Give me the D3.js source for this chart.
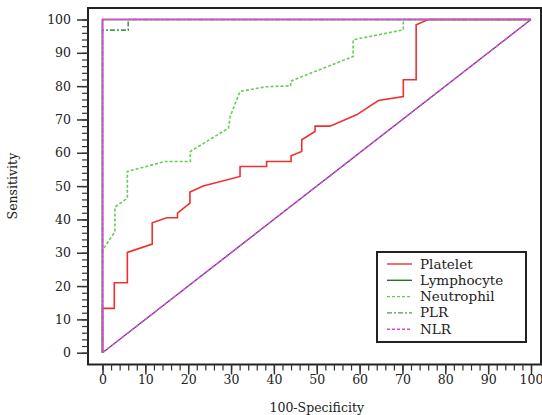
<!DOCTYPE html>
<html>
<head>
<meta charset="utf-8">
<script src="https://cdn.jsdelivr.net/npm/d3@7"></script>
<style>
  body { margin: 0; background: #fff; }
  text { font-family: "DejaVu Serif", serif; fill: #222; }
</style>
</head>
<body>
<div id="chart"></div>
<script>
// ROC curves: [100-Specificity, Sensitivity]
const platelet = [
  [0, 0], [0, 13.3], [2.75, 13.3], [2.75, 21], [5.8, 21], [5.8, 30.1], [11.6, 32.6],
  [11.6, 39], [15, 40.5], [17.5, 40.5], [17.5, 41.9], [20.4, 44.9], [20.4, 48.2],
  [23.5, 50], [32.1, 52.9], [32.1, 55.9], [38.3, 55.9], [38.3, 57.4], [44, 57.4],
  [44, 59.1], [46.5, 60.4], [46.5, 63.9], [49.6, 66.4], [49.6, 68], [53.1, 68],
  [59.3, 71.4], [64.4, 75.7], [70.2, 76.9], [70.2, 81.9], [73.2, 81.9], [73.2, 98.4],
  [76, 100], [100, 100]
];
const lymphocyte = [[0, 0], [0, 100], [100, 100]];
const neutrophil = [
  [0, 0], [0, 30.8], [2.9, 36.3], [2.9, 43.7], [5.8, 46.4], [5.8, 54.4], [14.6, 57.4],
  [20.5, 57.4], [20.5, 60.4], [29.4, 67.4], [29.8, 70.9], [32.1, 78.4], [38, 79.8],
  [43.9, 80.1], [43.9, 81.5], [58.5, 88.9], [58.5, 93.9], [70.2, 96.9], [70.2, 100],
  [100, 100]
];
const plr = [[0, 0], [0, 96.8], [6, 96.8], [6, 100], [100, 100]];
const nlr = [[0, 0], [0, 100], [100, 100]];
const diagonal = [[0, 0], [100, 100]];

const seriesNames = ['Platelet', 'Lymphocyte', 'Neutrophil', 'PLR', 'NLR'];
const xTicks = [0, 10, 20, 30, 40, 50, 60, 70, 80, 90, 100];
const yTicks = [0, 10, 20, 30, 40, 50, 60, 70, 80, 90, 100];

// plotDash is how the curve looks in the plot, dash is the legend sample
const series = [
  { name: 'Platelet', data: platelet, color: '#f03030', dash: null, plotDash: null },
  { name: 'Lymphocyte', data: lymphocyte, color: '#1a7a1a', dash: null, plotDash: null },
  { name: 'Neutrophil', data: neutrophil, color: '#66cc55', dash: '3,2', plotDash: '3,2' },
  { name: 'PLR', data: plr, color: '#4a9a4a', dash: '5,2,2,2', plotDash: '5,2,2,2' },
  { name: 'NLR', data: nlr, color: '#dd44dd', dash: '3,2', plotDash: null }
];

const width = 542, height = 415;
const frame = { left: 88, top: 8, right: 541, bottom: 364.5 };

const svg = d3.select('#chart')
  .append('svg')
  .attr('width', width)
  .attr('height', height);

const x = d3.scaleLinear().domain([0, 100]).range([102.5, 531]);
const y = d3.scaleLinear().domain([0, 100]).range([352.7, 19.5]);

// frame
svg.append('rect')
  .attr('x', frame.left)
  .attr('y', frame.top)
  .attr('width', frame.right - frame.left)
  .attr('height', frame.bottom - frame.top)
  .attr('fill', 'none')
  .attr('stroke', '#222')
  .attr('stroke-width', 2);

// y axis
const minorVals = d3.range(0, 101, 2);
svg.append('g')
  .attr('transform', `translate(${frame.left},0)`)
  .call(d3.axisLeft(y).tickValues(minorVals).tickSize(6).tickFormat(''))
  .call(g => g.select('.domain').remove())
  .selectAll('line').attr('stroke', '#333').attr('stroke-width', 1.2);

svg.append('g')
  .attr('transform', `translate(${frame.left},0)`)
  .call(d3.axisLeft(y).tickValues(yTicks).tickSize(11).tickPadding(6))
  .call(g => g.select('.domain').remove())
  .call(g => g.selectAll('line').attr('stroke', '#333').attr('stroke-width', 1.5))
  .selectAll('text')
  .style('font-family', '"DejaVu Serif", serif')
  .style('font-size', '12.5px')
  .attr('fill', '#222');

// x axis
svg.append('g')
  .attr('transform', `translate(0,${frame.bottom})`)
  .call(d3.axisBottom(x).tickValues(minorVals).tickSize(6).tickFormat(''))
  .call(g => g.select('.domain').remove())
  .selectAll('line').attr('stroke', '#333').attr('stroke-width', 1.2);

svg.append('g')
  .attr('transform', `translate(0,${frame.bottom})`)
  .call(d3.axisBottom(x).tickValues(xTicks).tickSize(10).tickPadding(1))
  .call(g => g.select('.domain').remove())
  .call(g => g.selectAll('line').attr('stroke', '#333').attr('stroke-width', 1.5))
  .selectAll('text')
  .style('font-family', '"DejaVu Serif", serif')
  .style('font-size', '12.5px')
  .attr('fill', '#222');

// axis titles
svg.append('text')
  .attr('x', (x(0) + x(100)) / 2)
  .attr('y', 412)
  .attr('text-anchor', 'middle')
  .style('font-size', '12.5px')
  .text('100-Specificity');

svg.append('text')
  .attr('transform', `translate(17,${(y(0) + y(100)) / 2}) rotate(-90)`)
  .attr('text-anchor', 'middle')
  .style('font-size', '12.5px')
  .text('Sensitivity');

const line = d3.line().x(d => x(d[0])).y(d => y(d[1]));

// reference diagonal
svg.append('path')
  .attr('d', line(diagonal))
  .attr('fill', 'none')
  .attr('stroke', '#7a3a8e')
  .attr('stroke-width', 1.4);
svg.append('path')
  .attr('d', line(diagonal))
  .attr('fill', 'none')
  .attr('stroke', '#dd55dd')
  .attr('stroke-width', 1.4)
  .attr('stroke-dasharray', '3,3');

series.forEach(s => {
  svg.append('path')
    .attr('d', line(s.data))
    .attr('fill', 'none')
    .attr('stroke', s.color)
    .attr('stroke-width', 1.6)
    .attr('stroke-dasharray', s.plotDash);
});

// legend
const legend = svg.append('g')
  .attr('transform', 'translate(377,252)');

legend.append('rect')
  .attr('width', 149)
  .attr('height', 90)
  .attr('fill', '#fff')
  .attr('stroke', '#222')
  .attr('stroke-width', 2);

series.forEach((s, i) => {
  const ly = 12 + i * 16.3;
  legend.append('line')
    .attr('x1', 10)
    .attr('x2', 35)
    .attr('y1', ly)
    .attr('y2', ly)
    .attr('stroke', s.color)
    .attr('stroke-width', 1.4)
    .attr('stroke-dasharray', s.dash);
  legend.append('text')
    .attr('x', 43)
    .attr('y', ly + 4.5)
    .style('font-size', '13.5px')
    .text(seriesNames[i]);
});
</script>
</body>
</html>
